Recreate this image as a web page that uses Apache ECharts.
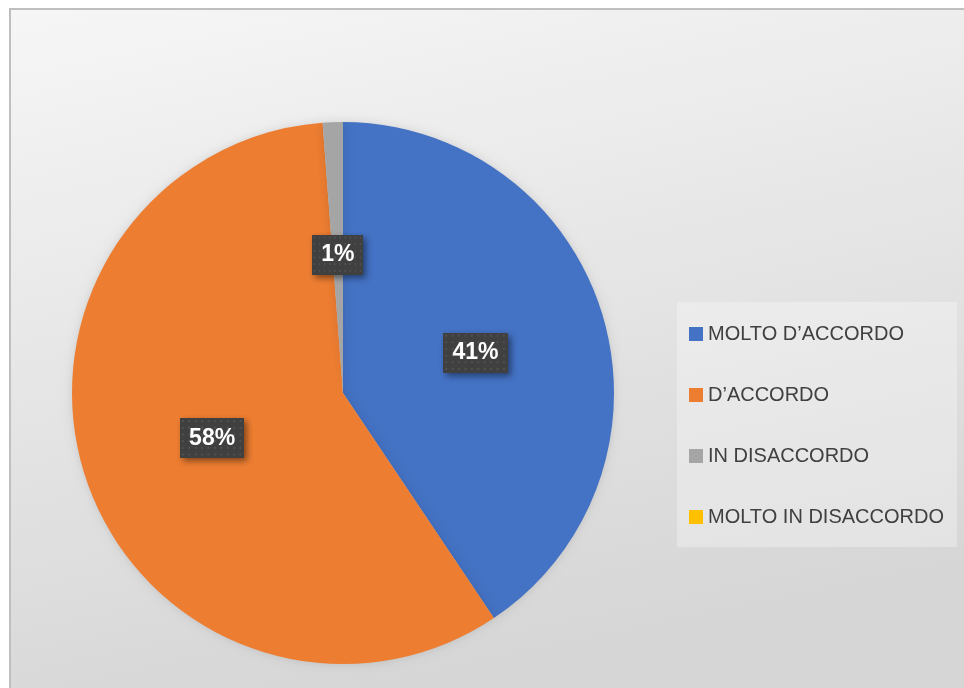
<!DOCTYPE html>
<html>
<head>
<meta charset="utf-8">
<script src="https://cdn.jsdelivr.net/npm/echarts@6/dist/echarts.min.js"></script>
<style>
  html, body { margin: 0; padding: 0; background: #ffffff; }
  #chart { width: 964px; height: 688px; }
</style>
</head>
<body>
<div id="chart"></div>
<script>
const categories = ['MOLTO D\u2019ACCORDO', 'D\u2019ACCORDO', 'IN DISACCORDO', 'MOLTO IN DISACCORDO'];
const values = [40.6, 58.2, 1.2, 0];
const colors = ['#4472c4', '#ed7d31', '#a5a5a5', '#ffc000'];

// dotted dark texture behind the data labels
function makeTexture() {
  const c = document.createElement('canvas');
  c.width = 70;
  c.height = 42;
  const ctx = c.getContext('2d');
  ctx.fillStyle = '#404040';
  ctx.fillRect(0, 0, c.width, c.height);
  ctx.fillStyle = '#525252';
  for (let y = 2; y < c.height; y += 7) {
    for (let x = 2; x < c.width; x += 7) {
      ctx.fillRect(x, y, 2, 2);
    }
  }
  return c;
}

const texture = makeTexture();
const myChart = echarts.init(document.getElementById('chart'));

const option = {
  animation: false,
  color: colors,
  graphic: [
    {
      type: 'rect',
      z: -10,
      shape: { x: 10, y: 9, width: 1000, height: 720 },
      style: {
        fill: {
          type: 'linear', x: 0, y: 0, x2: 0.15, y2: 1,
          colorStops: [
            { offset: 0, color: '#f6f6f6' },
            { offset: 1, color: '#d6d6d6' }
          ]
        },
        stroke: '#bfbfbf',
        lineWidth: 2
      }
    },
    {
      type: 'rect',
      z: -9,
      shape: { x: 677, y: 302, width: 280, height: 245 },
      style: { fill: 'rgba(255,255,255,0.3)' }
    }
  ],
  legend: {
    orient: 'vertical',
    left: 689,
    top: 324,
    icon: 'rect',
    itemWidth: 14,
    itemHeight: 14,
    itemGap: 41,
    padding: 0,
    data: categories,
    textStyle: {
      fontFamily: 'Liberation Sans',
      fontSize: 20,
      lineHeight: 20,
      color: '#404040'
    }
  },
  series: [
    {
      type: 'pie',
      center: [343, 393],
      radius: 271,
      startAngle: 90,
      clockwise: true,
      avoidLabelOverlap: false,
      itemStyle: {
        shadowBlur: 10,
        shadowColor: 'rgba(0,0,0,0.12)'
      },
      emphasis: { disabled: true },
      label: {
        position: 'inside',
        formatter: p => Math.round(p.value) + '%',
        fontFamily: 'Liberation Sans',
        fontWeight: 'bold',
        fontSize: 23,
        color: '#ffffff',
        backgroundColor: { image: texture },
        padding: [9, 9, 8, 9],
        shadowColor: 'rgba(0,0,0,0.45)',
        shadowBlur: 6,
        shadowOffsetX: 3,
        shadowOffsetY: 3
      },
      labelLine: { show: false },
      data: categories.map((name, i) => ({
        name: name,
        value: values[i],
        label: { show: values[i] > 0 }
      }))
    }
  ]
};

myChart.setOption(option);
</script>
</body>
</html>
